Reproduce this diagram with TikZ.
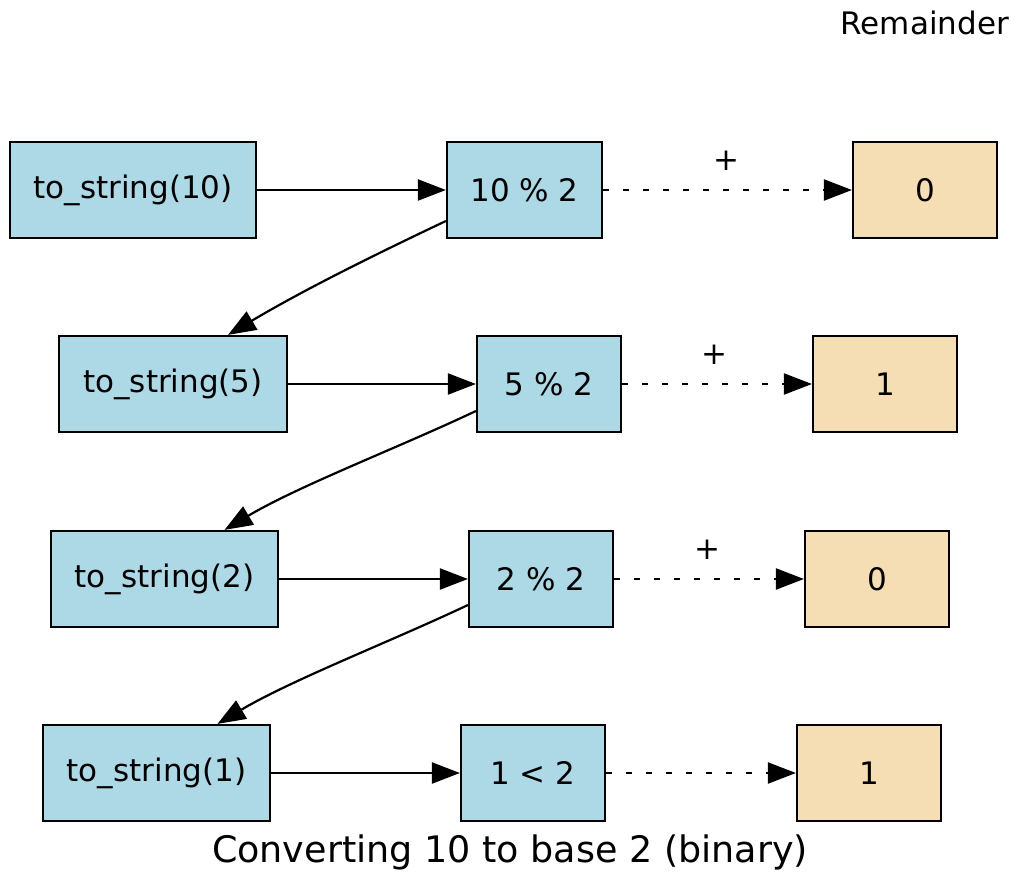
\documentclass[tikz,border=0pt]{standalone}
\usepackage{fontspec}
\setmainfont{DejaVu Sans}
\usetikzlibrary{arrows.meta}
\definecolor{lblue}{HTML}{ADD8E6}
\definecolor{wheatc}{HTML}{F5DEB3}
\tikzset{
  box/.style={draw=black, line width=2.2pt, minimum height=96pt, inner sep=0pt, font=\fontsize{31}{36}\selectfont},
  callbox/.style={box, fill=lblue},
  resbox/.style={box, fill=wheatc, minimum width=144pt},
  arr/.style={line width=2.2pt, -{Triangle[length=28pt, width=21pt]}},
  dotarr/.style={arr, dash pattern=on 6pt off 14pt},
  lbl/.style={font=\fontsize{31}{36}\selectfont, inner sep=0pt}
}
\begin{document}
\begin{tikzpicture}[x=1pt, y=-1pt]
\useasboundingbox (0,0) rectangle (1016,872);
% row 1
\node[callbox, minimum width=246pt] (t10) at (133,190) {to\_string(10)};
\node[callbox, minimum width=155pt] (m10) at (524.5,190) {10 \% 2};
\node[resbox] (r1) at (925,190) {0};
% row 2
\node[callbox, minimum width=228pt] (t5) at (173,384) {to\_string(5)};
\node[callbox, minimum width=144pt] (m5) at (549,384) {5 \% 2};
\node[resbox] (r2) at (885,384) {1};
% row 3
\node[callbox, minimum width=227pt] (t2) at (164.5,579) {to\_string(2)};
\node[callbox, minimum width=144pt] (m2) at (541,579) {2 \% 2};
\node[resbox] (r3) at (877,579) {0};
% row 4
\node[callbox, minimum width=227pt] (t1) at (156.5,773) {to\_string(1)};
\node[callbox, minimum width=144pt] (m1) at (533,773) {1 < 2};
\node[resbox] (r4) at (869,773) {1};
% texts
\node[lbl, anchor=east] (rem) at (1009,23) {Remainder};
\node[lbl, font=\fontsize{36.5}{42}\selectfont] (cap) at (510,852) {Converting 10 to base 2 (binary)};
\node[lbl] (p1) at (726,161) {+};
\node[lbl] (p2) at (714,355) {+};
\node[lbl] (p3) at (707,550) {+};
% edges
\draw[arr] (t10) -- (m10);
\draw[arr] (t5) -- (m5);
\draw[arr] (t2) -- (m2);
\draw[arr] (t1) -- (m1);
\draw[dotarr] (m10) -- (r1);
\draw[dotarr] (m5) -- (r2);
\draw[dotarr] (m2) -- (r3);
\draw[dotarr] (m1) -- (r4);
\draw[arr] ([yshift=-31pt]m10.west) .. controls +(-76,36) and +(74,-44) .. ([xshift=55pt]t5.north);
\draw[arr] ([yshift=-27pt]m5.west) .. controls +(-76,36) and +(74,-44) .. ([xshift=60pt]t2.north);
\draw[arr] ([yshift=-26pt]m2.west) .. controls +(-76,36) and +(74,-44) .. ([xshift=61pt]t1.north);
\end{tikzpicture}
\end{document}
